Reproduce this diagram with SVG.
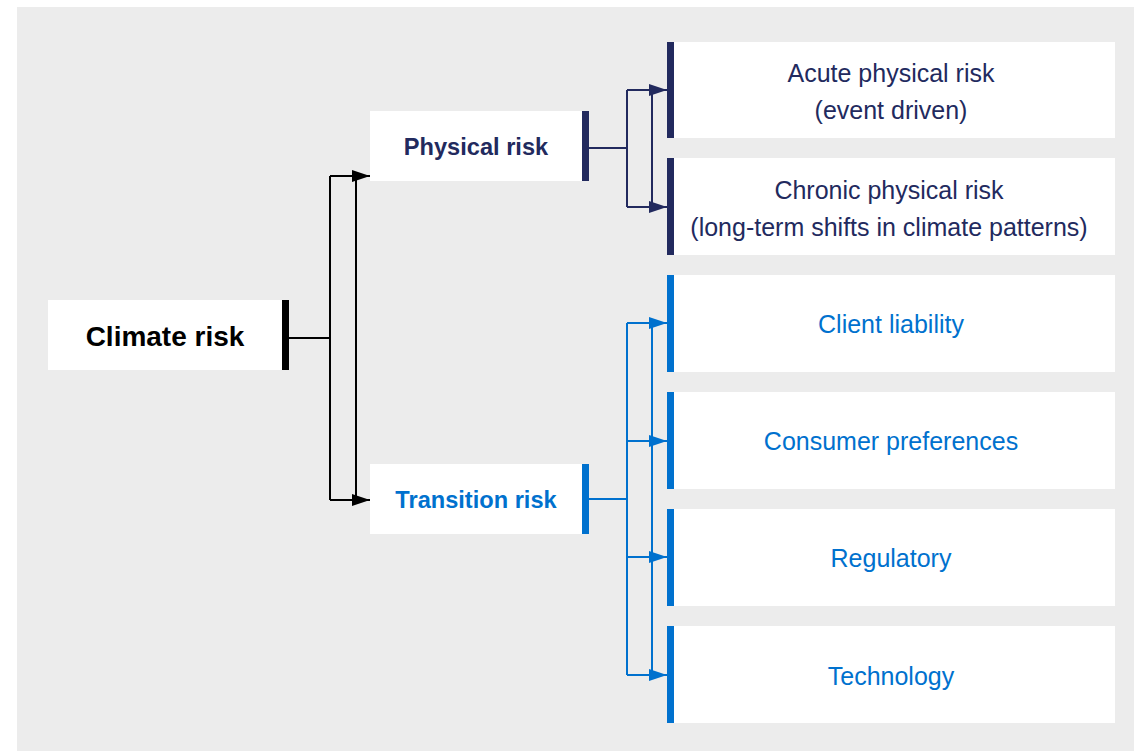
<svg xmlns="http://www.w3.org/2000/svg" width="1134" height="751" viewBox="0 0 1134 751">
<style>
.box{fill:#ffffff}
.t{font-family:"Liberation Sans",Arial,sans-serif;text-anchor:middle}
.b{font-weight:bold}
.k{fill:#000000}
.n{fill:#222a5e}
.u{fill:#0071ce}
.lk{stroke:#000000;stroke-width:2;fill:none}
.ln{stroke:#222a5e;stroke-width:2;fill:none}
.lu{stroke:#0071ce;stroke-width:2;fill:none}
</style>
<defs>
<marker id="ak" markerUnits="userSpaceOnUse" markerWidth="18" markerHeight="12" refX="18" refY="6" orient="auto"><path d="M0,0 L18,6 L0,12 Z" fill="#000000"/></marker>
<marker id="an" markerUnits="userSpaceOnUse" markerWidth="18" markerHeight="12" refX="18" refY="6" orient="auto"><path d="M0,0 L18,6 L0,12 Z" fill="#222a5e"/></marker>
<marker id="au" markerUnits="userSpaceOnUse" markerWidth="18" markerHeight="12" refX="18" refY="6" orient="auto"><path d="M0,0 L18,6 L0,12 Z" fill="#0071ce"/></marker>
</defs>
<rect x="17" y="7" width="1117" height="744" fill="#ececec"/>

<g id="connectors">
<path class="lk" d="M289,338 H330 M330,176 V500 M356,176 V500"/>
<path class="lk" d="M330,176 H370" marker-end="url(#ak)"/>
<path class="lk" d="M330,500 H370" marker-end="url(#ak)"/>

<path class="ln" d="M589,148 H627 M627,90 V207 M652,90 V207"/>
<path class="ln" d="M627,90 H667" marker-end="url(#an)"/>
<path class="ln" d="M627,207 H667" marker-end="url(#an)"/>

<path class="lu" d="M580,499 H627 M627,323 V675 M652,323 V675"/>
<path class="lu" d="M627,323 H667" marker-end="url(#au)"/>
<path class="lu" d="M627,441 H667" marker-end="url(#au)"/>
<path class="lu" d="M627,557 H667" marker-end="url(#au)"/>
<path class="lu" d="M627,675 H667" marker-end="url(#au)"/>
</g>

<g id="climate-risk">
<rect class="box" x="48" y="300" width="235" height="70"/>
<rect class="k" x="282" y="300" width="7" height="70"/>
<text class="t b k" x="165" y="346" font-size="28">Climate risk</text>
</g>

<g id="physical-risk">
<rect class="box" x="370" y="111" width="212" height="70"/>
<rect class="n" x="582" y="111" width="7" height="70"/>
<text class="t b n" x="476" y="155" font-size="23.6">Physical risk</text>
</g>

<g id="transition-risk">
<rect class="box" x="370" y="464" width="212" height="70"/>
<rect class="u" x="582" y="464" width="7" height="70"/>
<text class="t b u" x="476" y="508" font-size="23.6">Transition risk</text>
</g>

<g id="acute">
<rect class="box" x="674" y="42" width="441" height="96"/>
<rect class="n" x="667" y="42" width="7" height="96"/>
<text class="t n" x="891" y="82" font-size="25">Acute physical risk</text>
<text class="t n" x="891" y="119" font-size="25">(event driven)</text>
</g>

<g id="chronic">
<rect class="box" x="674" y="158" width="441" height="97"/>
<rect class="n" x="667" y="158" width="7" height="97"/>
<text class="t n" x="889" y="199" font-size="25">Chronic physical risk</text>
<text class="t n" x="889" y="236" font-size="25">(long-term shifts in climate patterns)</text>
</g>

<g id="client-liability">
<rect class="box" x="674" y="275" width="441" height="97"/>
<rect class="u" x="667" y="275" width="7" height="97"/>
<text class="t u" x="891" y="333" font-size="25">Client liability</text>
</g>

<g id="consumer-preferences">
<rect class="box" x="674" y="392" width="441" height="97"/>
<rect class="u" x="667" y="392" width="7" height="97"/>
<text class="t u" x="891" y="450" font-size="25">Consumer preferences</text>
</g>

<g id="regulatory">
<rect class="box" x="674" y="509" width="441" height="97"/>
<rect class="u" x="667" y="509" width="7" height="97"/>
<text class="t u" x="891" y="567" font-size="25">Regulatory</text>
</g>

<g id="technology">
<rect class="box" x="674" y="626" width="441" height="97"/>
<rect class="u" x="667" y="626" width="7" height="97"/>
<text class="t u" x="891" y="685" font-size="25">Technology</text>
</g>
</svg>
